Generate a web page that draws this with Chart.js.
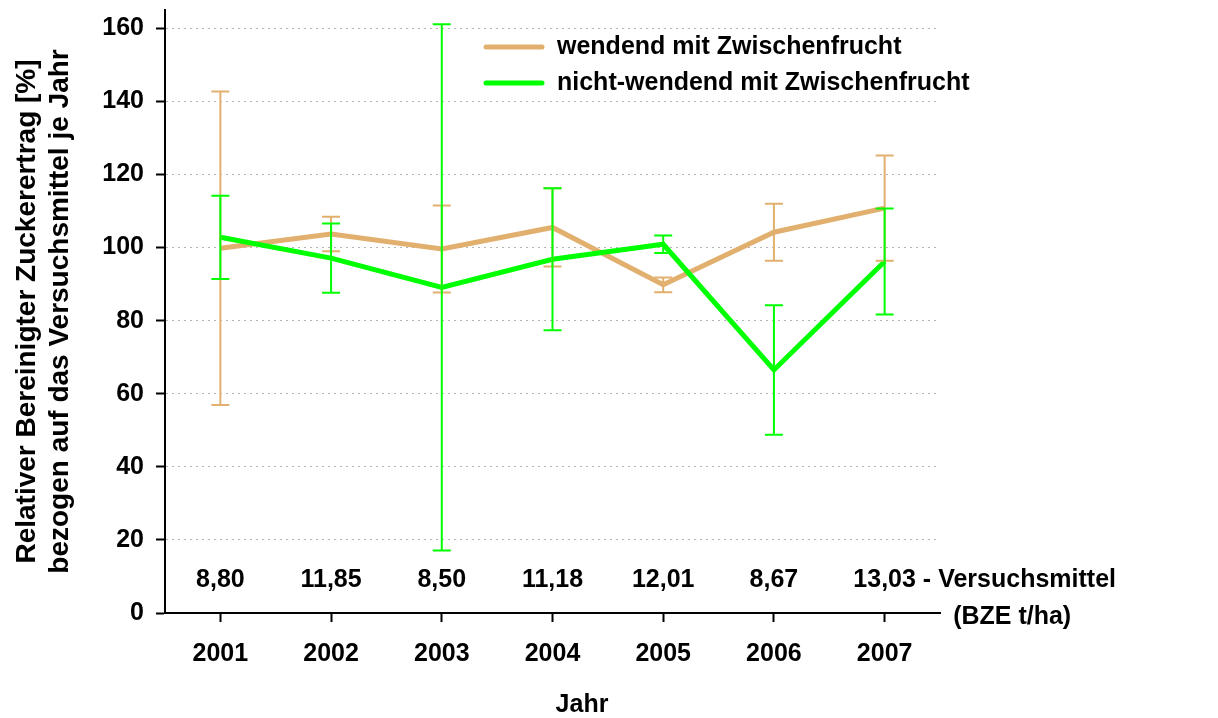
<!DOCTYPE html>
<html lang="de">
<head>
<meta charset="UTF-8">
<title>Relativer Bereinigter Zuckerertrag</title>
<script src="https://cdn.jsdelivr.net/npm/chart.js"></script>
<style>
  body { margin: 0; background: #fff; }
  #wrap { width: 1218px; height: 718px; }
</style>
</head>
<body>
<div id="wrap"><canvas id="chart" width="1218" height="718"></canvas></div>
<script>
  // Werte
  const jahre = ['2001', '2002', '2003', '2004', '2005', '2006', '2007'];
  const wendend = [99.8, 103.7, 99.6, 105.5, 89.8, 104.2, 110.8];
  const wendendFehler = [42.9, 4.7, 11.9, 10.7, 2.0, 7.8, 14.4];
  const nichtWendend = [102.8, 97.1, 89.1, 96.8, 100.9, 66.5, 96.2];
  const nichtWendendFehler = [11.4, 9.5, 72.0, 19.4, 2.4, 17.7, 14.5];
  const versuchsmittel = ['8,80', '11,85', '8,50', '11,18', '12,01', '8,67', '13,03'];
  const yTicks = [0, 20, 40, 60, 80, 100, 120, 140, 160];

  const farbeWendend = 'rgb(226, 176, 110)';
  const farbeNicht = '#00ff00';
  const schrift = "'Liberation Sans', Arial, sans-serif";

  Chart.defaults.font.family = schrift;
  Chart.defaults.font.weight = 'bold';
  Chart.defaults.font.size = 25;
  Chart.defaults.color = '#000';

  // Fehlerbalken über die y-Skala zeichnen
  const fehlerbalken = {
    id: 'fehlerbalken',
    afterDatasetsDraw(chart) {
      const ctx = chart.ctx;
      const y = chart.scales.y;
      chart.data.datasets.forEach((ds, di) => {
        const meta = chart.getDatasetMeta(di);
        ctx.save();
        ctx.strokeStyle = ds.borderColor;
        ctx.lineWidth = 2;
        ds.fehler.forEach((f, i) => {
          const x = meta.data[i].x;
          const oben = y.getPixelForValue(ds.data[i] + f);
          const unten = y.getPixelForValue(ds.data[i] - f);
          ctx.beginPath();
          ctx.moveTo(x, oben); ctx.lineTo(x, unten);
          ctx.moveTo(x - 9, oben); ctx.lineTo(x + 9, oben);
          ctx.moveTo(x - 9, unten); ctx.lineTo(x + 9, unten);
          ctx.stroke();
        });
        ctx.restore();
      });
    }
  };

  // Legende, Versuchsmittel und Achsentitel
  const texte = {
    id: 'texte',
    afterDraw(chart) {
      const ctx = chart.ctx;
      const area = chart.chartArea;
      const x = chart.scales.x;
      ctx.save();
      ctx.fillStyle = '#000';
      ctx.font = 'bold 25px ' + schrift;
      ctx.textBaseline = 'middle';

      // Legende
      chart.data.datasets.forEach((ds, i) => {
        const ly = 47 + i * 36;
        ctx.strokeStyle = ds.borderColor;
        ctx.lineWidth = 5;
        ctx.lineCap = 'round';
        ctx.beginPath();
        ctx.moveTo(486, ly); ctx.lineTo(542, ly);
        ctx.stroke();
        ctx.textAlign = 'left';
        ctx.fillText(ds.label, 557, ly);
      });

      // Versuchsmittel je Jahr
      const zeileY = area.bottom - 33;
      ctx.textAlign = 'center';
      versuchsmittel.forEach((v, i) => {
        ctx.fillText(v, x.getPixelForValue(i), zeileY);
      });
      const letzte = versuchsmittel.length - 1;
      const ende = x.getPixelForValue(letzte) + ctx.measureText(versuchsmittel[letzte]).width / 2;
      ctx.textAlign = 'left';
      ctx.fillText(' - ', ende, zeileY);
      const start = ende + ctx.measureText(' - ').width;
      ctx.fillText('Versuchsmittel', start, zeileY);
      ctx.fillText('(BZE t/ha)', start + 15, area.bottom + 4);

      // x-Achsentitel
      ctx.textAlign = 'center';
      ctx.fillText('Jahr', 582, 705);

      // y-Achsentitel
      ctx.translate(0, (area.top + area.bottom) / 2);
      ctx.rotate(-Math.PI / 2);
      ctx.font = 'bold 28px ' + schrift;
      ctx.fillText('Relativer Bereinigter Zuckerertrag [%]', 0, 27);
      ctx.fillText('bezogen auf das Versuchsmittel je Jahr', 0, 60);
      ctx.restore();
    }
  };

  new Chart(document.getElementById('chart').getContext('2d'), {
    type: 'line',
    data: {
      labels: jahre,
      datasets: [{
        label: 'wendend mit Zwischenfrucht',
        data: wendend,
        fehler: wendendFehler,
        borderColor: farbeWendend,
        borderWidth: 5,
        pointRadius: 0,
        tension: 0,
        order: 2
      }, {
        label: 'nicht-wendend mit Zwischenfrucht',
        data: nichtWendend,
        fehler: nichtWendendFehler,
        borderColor: farbeNicht,
        borderWidth: 5,
        pointRadius: 0,
        tension: 0,
        order: 1
      }]
    },
    options: {
      responsive: false,
      animation: false,
      layout: { padding: { left: 0, right: 278, top: 10, bottom: 0 } },
      plugins: { legend: { display: false }, tooltip: { enabled: false } },
      scales: {
        x: {
          offset: true,
          afterFit: (s) => { s.height = 105; },
          grid: { drawOnChartArea: false, offset: false, tickLength: 9, tickColor: '#000', tickWidth: 2 },
          border: { color: '#000', width: 2 },
          ticks: { padding: 17 }
        },
        y: {
          min: 0,
          max: 165,
          afterBuildTicks: (s) => { s.ticks = yTicks.map(v => ({ value: v })); },
          afterFit: (s) => { s.width = 165; s.paddingTop = 0; s.paddingBottom = 0; },
          ticks: { padding: 12 },
          grid: { color: '#b4b4b4', lineWidth: 1, tickColor: '#000', tickLength: 9, tickWidth: 2 },
          border: { color: '#000', width: 2, dash: [2, 4] }
        }
      }
    },
    plugins: [fehlerbalken, texte]
  });
</script>
</body>
</html>
